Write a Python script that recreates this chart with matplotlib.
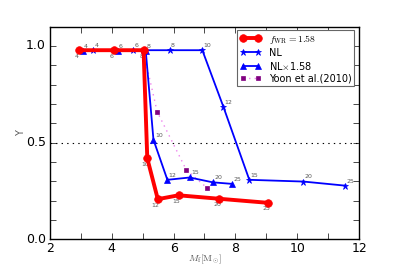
import matplotlib
matplotlib.use("Agg")
import matplotlib.pyplot as plt
from matplotlib.ticker import MultipleLocator

plt.style.use('classic')

labels = ['4', '6', '8', '10', '12', '15', '20', '25']

fwr_x = [2.95, 4.07, 5.03, 5.15, 5.49, 6.16, 7.48, 9.06]
fwr_y = [0.978, 0.978, 0.978, 0.419, 0.208, 0.228, 0.210, 0.189]

nl_x = [3.39, 4.68, 5.87, 6.93, 7.61, 8.45, 10.2, 11.54]
nl_y = [0.978, 0.978, 0.978, 0.978, 0.686, 0.308, 0.299, 0.278]

nl158_x = [3.06, 4.19, 5.10, 5.35, 5.80, 6.52, 7.27, 7.89]
nl158_y = [0.975, 0.975, 0.975, 0.515, 0.308, 0.320, 0.295, 0.287]

yoon_x = [5.02, 5.47, 6.41, 7.07]
yoon_y = [0.975, 0.660, 0.360, 0.268]

fig = plt.figure(figsize=(3.99, 2.66), dpi=100)
ax = fig.add_axes([0.125, 0.1, 0.775, 0.8])

ax.axhline(0.5, color='k', ls=':', lw=0.8)

ax.plot(yoon_x, yoon_y, ls=':', color='violet', marker='s', ms=2.5, mfc='purple',
        mec='purple', lw=1.0, label='Yoon et al.(2010)', zorder=2)
ax.plot(nl158_x, nl158_y, '-', color='b', marker='^', ms=4.5, mec='b',
        lw=1.3, label=r'NL$\times$1.58', zorder=3)
ax.plot(nl_x, nl_y, '-', color='b', marker='*', ms=5, mec='b',
        lw=1.3, label='NL', zorder=3)
ax.plot(fwr_x, fwr_y, '-', color='r', marker='o', ms=5.5, mec='r',
        lw=2.8, label=r'$f_{\rm WR}=1.58$', zorder=4)

for x, y, t in zip(fwr_x, fwr_y, labels):
    ax.annotate(t, (x, y), xytext=(-1.5, -2.5), textcoords='offset points',
                ha='center', va='top', fontsize=4.5, color='0.35')
for x, y, t in zip(nl_x, nl_y, labels):
    ax.annotate(t, (x, y), xytext=(1, 1.5), textcoords='offset points',
                ha='left', va='bottom', fontsize=4.5, color='0.35')
for x, y, t in zip(nl158_x, nl158_y, labels):
    ax.annotate(t, (x, y), xytext=(1, 1.5), textcoords='offset points',
                ha='left', va='bottom', fontsize=4.5, color='0.35')

ax.set_xlim(2, 12)
ax.set_ylim(0, 1.1)
ax.set_xticks([2, 4, 6, 8, 10, 12])
ax.set_yticks([0.0, 0.5, 1.0])
ax.xaxis.set_minor_locator(MultipleLocator(1))
ax.yaxis.set_minor_locator(MultipleLocator(0.1))
ax.tick_params(which='both', direction='in', top=True, right=True, length=4)
ax.tick_params(labelsize=9)
ax.tick_params(axis='x', pad=2)
ax.tick_params(axis='y', pad=3)
ax.set_xlabel(r'$M_{\rm f}[\rm M_{\odot}]$', fontsize=7, color='0.35', labelpad=-1.5)
ax.set_ylabel('Y', fontsize=7, color='0.35', labelpad=0)

h, l = ax.get_legend_handles_labels()
order = [3, 2, 1, 0]
leg = ax.legend([h[i] for i in order], [l[i] for i in order], loc='upper right',
                fontsize=7, numpoints=2, bbox_to_anchor=(0.985, 0.985),
                borderaxespad=0.0, handlelength=2.2, labelspacing=0.2,
                borderpad=0.3, frameon=True)
leg.get_frame().set_edgecolor('0.4')
leg.get_frame().set_linewidth(0.8)

fig.savefig('out.png', dpi=100)
